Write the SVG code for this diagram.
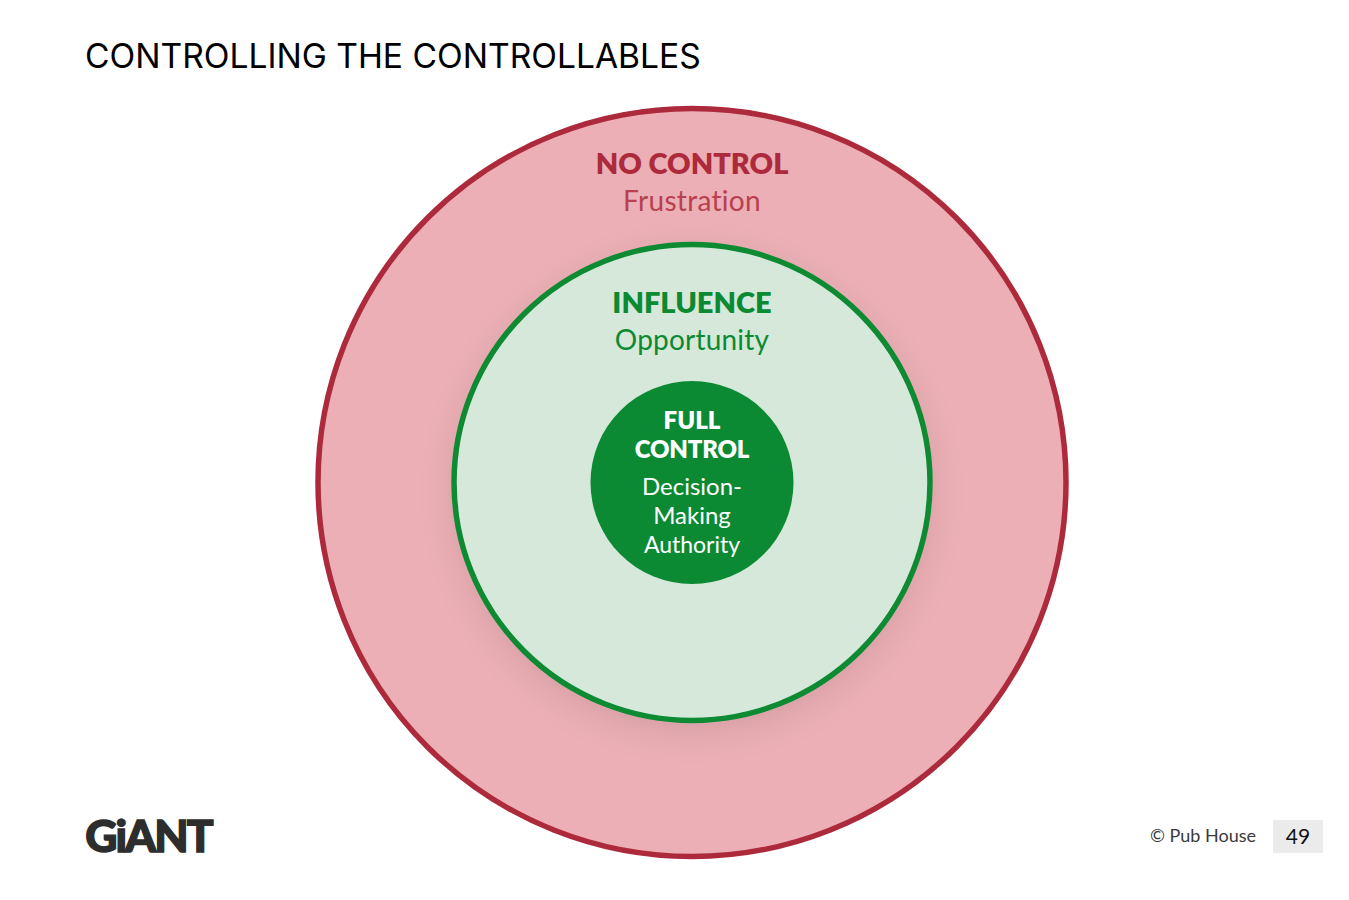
<svg xmlns="http://www.w3.org/2000/svg" width="1349" height="900" viewBox="0 0 1349 900">
<style>
text{font-family:"Lato","Noto Sans","Liberation Sans",sans-serif;text-anchor:middle;font-variant-ligatures:none}
.b{font-weight:800}
</style>
<defs>
<filter id="sh" x="-20%" y="-20%" width="140%" height="140%"><feDropShadow dx="0" dy="10" stdDeviation="16" flood-color="#000" flood-opacity="0.09"/></filter>
</defs>
<rect width="1349" height="900" fill="#fff"/>
<text x="85" y="68" font-size="33.6" style="text-anchor:start;font-family:'Inter','Liberation Sans',sans-serif" fill="#000">CONTROLLING THE CONTROLLABLES</text>
<g id="no-control">
<circle cx="692" cy="482.5" r="374" fill="#ebafb5" stroke="#ad2a3c" stroke-width="5.5"/>
<text x="692" y="174" font-size="29" class="b" fill="#ad2a3c">NO CONTROL</text>
<text x="692" y="211" font-size="28" fill="#b8404f" style="letter-spacing:.3px">Frustration</text>
</g>
<g id="influence">
<circle cx="692" cy="482.5" r="238" fill="#d6e8da" stroke="#0c8a33" stroke-width="5.5" filter="url(#sh)"/>
<text x="692" y="313" font-size="29" class="b" fill="#0c8a33">INFLUENCE</text>
<text x="692" y="350" font-size="28" fill="#0c8a33" style="letter-spacing:.2px">Opportunity</text>
</g>
<g id="full-control">
<circle cx="692" cy="482.5" r="101.5" fill="#0c8a33"/>
<text x="692" y="429" font-size="24" class="b" fill="#fff">FULL</text>
<text x="692" y="458" font-size="24" class="b" fill="#fff" style="letter-spacing:-.2px">CONTROL</text>
<text x="692" y="495" font-size="24" fill="#fff">Decision-</text>
<text x="692" y="524" font-size="24" fill="#fff">Making</text>
<text x="692" y="553" font-size="23" fill="#fff">Authority</text>
</g>
<g id="logo"><text x="148.500" y="852" font-size="44.500" font-weight="900" fill="#2d2d2d" stroke="#2d2d2d" stroke-width="1.4" style="letter-spacing:-2px">GiANT</text></g>
<g id="footer">
<text x="1203" y="842" font-size="18" fill="#3a3a3a">© Pub House</text>
<rect x="1273" y="820" width="50" height="33" fill="#ebebeb"/>
<text x="1298" y="843.500" font-size="21" fill="#111">49</text>
</g>
</svg>
